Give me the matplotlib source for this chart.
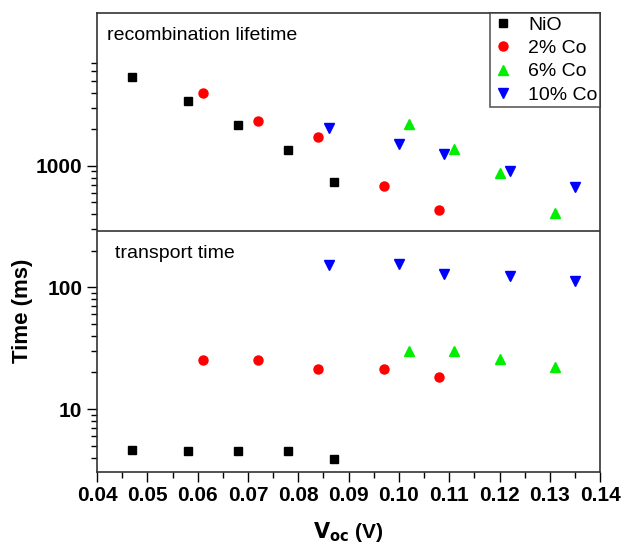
import numpy as np
import matplotlib
matplotlib.use('Agg')
import matplotlib.pyplot as plt
from matplotlib.ticker import FixedLocator, NullFormatter, MultipleLocator

# recombination lifetime (ms)
nio_v = [0.047, 0.058, 0.068, 0.078, 0.087]
nio_rec = [5320, 3400, 2150, 1350, 730]
nio_tr = [4.60, 4.49, 4.49, 4.49, 3.86]

co2_v = [0.061, 0.072, 0.084, 0.097, 0.108]
co2_rec = [3950, 2320, 1720, 685, 430]
co2_tr = [25.3, 25.3, 21.4, 21.4, 18.4]

co6_v = [0.102, 0.111, 0.120, 0.131]
co6_rec = [2190, 1370, 876, 406]
co6_tr = [30.0, 30.0, 25.6, 22.1]

co10_v = [0.086, 0.100, 0.109, 0.122, 0.135]
co10_rec = [2050, 1510, 1240, 910, 668]
co10_tr = [152, 155, 130, 125, 113]

plt.rcParams['font.family'] = ['Liberation Sans', 'DejaVu Sans']

fig = plt.figure(figsize=(6.22, 5.43), dpi=100)
ax = fig.add_axes([0.156, 0.131, 0.809, 0.845])

ax.plot(nio_v, nio_rec, 's', color='black', ms=5.5, label='NiO')
ax.plot(co2_v, co2_rec, 'o', color='red', ms=6.5, label='2% Co')
ax.plot(co6_v, co6_rec, '^', color='#00ee00', ms=7.5, label='6% Co')
ax.plot(co10_v, co10_rec, 'v', color='blue', ms=7.5, label='10% Co')

ax.plot(nio_v, nio_tr, 's', color='black', ms=5.5)
ax.plot(co2_v, co2_tr, 'o', color='red', ms=6.5)
ax.plot(co6_v, co6_tr, '^', color='#00ee00', ms=7.5)
ax.plot(co10_v, co10_tr, 'v', color='blue', ms=7.5)

ax.axhline(290, color='#333333', lw=1.2)

ax.set_yscale('log')
ax.set_ylim(3.05, 18000)
ax.set_xlim(0.04, 0.14)

ax.set_yticks([10, 100, 1000])
ax.set_yticklabels(['10', '100', '1000'])
minor = [m * 1 for m in range(4, 10)] + [m * 10 for m in range(2, 10)] + \
        [m * 100 for m in range(2, 10)] + [m * 1000 for m in range(2, 8)]
ax.yaxis.set_minor_locator(FixedLocator(minor))
ax.yaxis.set_minor_formatter(NullFormatter())

ax.set_xticks(np.arange(0.04, 0.1401, 0.01))
ax.set_xticklabels(['0.04', '0.05', '0.06', '0.07', '0.08', '0.09', '0.10',
                    '0.11', '0.12', '0.13', '0.14'])
ax.xaxis.set_minor_locator(MultipleLocator(0.005))

ax.tick_params(which='major', direction='out', length=7, width=1, labelsize=15)
ax.tick_params(which='minor', direction='out', length=4, width=1)
for lab in ax.get_xticklabels() + ax.get_yticklabels():
    lab.set_fontweight('bold')
for s in ax.spines.values():
    s.set_color('#333333')
    s.set_linewidth(1.2)

ax.set_ylabel('Time (ms)', fontsize=16, fontweight='bold')
ax.yaxis.set_label_coords(-0.127, 0.35)
ax.set_xlabel(r'$\mathbf{V_{oc}}$ (V)', fontsize=15, fontweight='bold')
ax.xaxis.set_label_coords(0.5, -0.105)
ax.xaxis.label.set_va('top')

ax.text(0.02, 0.952, 'recombination lifetime', transform=ax.transAxes,
        fontsize=14, va='center', ha='left')
ax.text(0.035, 0.475, 'transport time', transform=ax.transAxes,
        fontsize=14, va='center', ha='left')

leg = ax.legend(loc='upper right', fontsize=14, frameon=True, fancybox=False,
                edgecolor='#333333', borderpad=0.15, labelspacing=0.3,
                handletextpad=0.8, borderaxespad=0, handlelength=1.0)
leg.get_frame().set_linewidth(1.2)

fig.savefig('out.png', dpi=100)
